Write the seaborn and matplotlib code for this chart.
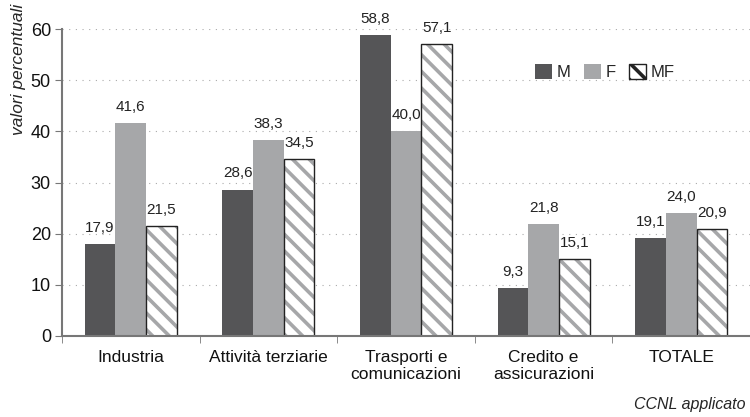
import matplotlib
matplotlib.use("Agg")
import matplotlib.pyplot as plt
import seaborn as sns
import pandas as pd
from matplotlib.patches import Patch

categories = ["Industria", "Attività terziarie", "Trasporti e\ncomunicazioni",
              "Credito e\nassicurazioni", "TOTALE"]
m_vals = [17.9, 28.6, 58.8, 9.3, 19.1]
f_vals = [41.6, 38.3, 40.0, 21.8, 24.0]
mf_vals = [21.5, 34.5, 57.1, 15.1, 20.9]
groups = ["M", "F", "MF"]
yticks = [0, 10, 20, 30, 40, 50, 60]

DARK = "#555557"
LIGHT = "#a6a7a9"


def main():
    rows = []
    for g, vals in zip(groups, [m_vals, f_vals, mf_vals]):
        for c, v in zip(categories, vals):
            rows.append({"cat": c, "sesso": g, "val": v})
    df = pd.DataFrame(rows)

    sns.set_style("white")
    plt.rcParams["font.family"] = ["Liberation Sans", "DejaVu Sans"]
    plt.rcParams["hatch.color"] = LIGHT
    plt.rcParams["hatch.linewidth"] = 2.6

    fig = plt.figure(figsize=(7.5, 4.17), dpi=100)
    ax = fig.add_axes([62 / 750, 81 / 417, 1 - 62 / 750, 307 / 417])

    sns.barplot(data=df, x="cat", y="val", hue="sesso", order=categories,
                hue_order=groups, palette=[DARK, LIGHT, "white"],
                width=0.67, saturation=1, ax=ax, legend=False)

    for i, cont in enumerate(ax.containers):
        for bar, v in zip(cont, [m_vals, f_vals, mf_vals][i]):
            bar.set_edgecolor("none")
            if i == 2:
                bar.set_hatch("\\\\")
                bar.set_edgecolor("#222222")
                bar.set_linewidth(1.0)
                bar._hatch_color = matplotlib.colors.to_rgba(LIGHT)
            x = bar.get_x() + bar.get_width() / 2
            ax.text(x, v + 1.8, f"{v:.1f}".replace(".", ","), ha="center",
                    va="bottom", fontsize=11, color="#222222", clip_on=False)

    ax.set_ylim(0, 60)
    ax.set_xlim(-0.5, 4.45)
    ax.set_yticks(yticks)
    ax.yaxis.grid(True, linestyle=(0, (1, 5)), color="#aaaaaa", linewidth=0.8)
    ax.set_axisbelow(True)
    ax.tick_params(axis="y", labelsize=13, length=5, color="#777777",
                   left=True, pad=3, labelcolor="#111111")
    ax.tick_params(axis="x", which="major", length=0, labelsize=12.5,
                   pad=10, labelcolor="#111111")
    ax.set_xticks([i + 0.5 for i in range(-1, 5)], minor=True)
    ax.tick_params(axis="x", which="minor", length=5, color="#777777",
                   bottom=True)
    for s in ["top", "right"]:
        ax.spines[s].set_visible(False)
    for s in ["left", "bottom"]:
        ax.spines[s].set_color("#777777")
        ax.spines[s].set_linewidth(1.5)
    ax.set_xlabel("")
    ax.set_ylabel("")

    fig.text(19 / 750, 1 - 4 / 417, "valori percentuali", rotation=90,
             ha="center", va="top", fontsize=12.5, style="italic")
    fig.text(746 / 750, 1 - 405 / 417, "CCNL applicato", ha="right",
             va="center", fontsize=11.5, style="italic")

    handles = [Patch(facecolor=DARK, edgecolor="none"),
               Patch(facecolor=LIGHT, edgecolor="none"),
               Patch(facecolor="white", edgecolor="#222222", hatch="\\\\")]
    leg = ax.legend(handles, groups, loc="center left", frameon=False, ncol=3,
                    handlelength=1.0, handleheight=1.0, handletextpad=0.3,
                    columnspacing=0.8, fontsize=12)
    leg.set_bbox_to_anchor((520 / 750, 1 - 72 / 417), transform=fig.transFigure)

    fig.savefig("out.png", dpi=100)
    plt.close(fig)


if __name__ == "__main__":
    main()
